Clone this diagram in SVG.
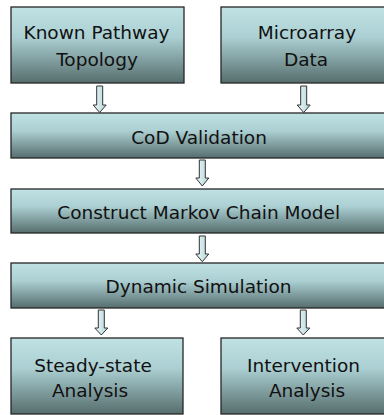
<svg xmlns="http://www.w3.org/2000/svg" width="384" height="415" viewBox="0 0 384 415">
  <defs>
    <linearGradient id="boxGrad" x1="0" y1="0" x2="0" y2="1">
      <stop offset="0" stop-color="#c0e2e5"/>
      <stop offset="0.4" stop-color="#abcfd2"/>
      <stop offset="1" stop-color="#566d6d"/>
    </linearGradient>
    <linearGradient id="arrGrad" x1="0" y1="0" x2="1" y2="0">
      <stop offset="0" stop-color="#eef8f9"/>
      <stop offset="1" stop-color="#b3d6d9"/>
    </linearGradient>
    <style>
      .box { fill: url(#boxGrad); stroke: #262626; stroke-width: 1.3; }
      .lbl { font-family: "DejaVu Sans", Verdana, sans-serif; font-size: 18.5px; fill: #111; text-anchor: middle; }
      .arr { fill: url(#arrGrad); stroke: #333; stroke-width: 1; stroke-linejoin: miter; }
    </style>
  </defs>
  <rect width="384" height="415" fill="#ffffff"/>

  <g id="connectors">
    <path class="arr" d="M96.7 86 H102.7 V105 H106.2 L99.7 112.5 L93.2 105 H96.7 Z"/>
    <path class="arr" d="M300.7 86 H306.7 V105 H310.2 L303.7 112.5 L297.2 105 H300.7 Z"/>
    <path class="arr" d="M199.3 160 H205.3 V178 H208.8 L202.3 186 L195.8 178 H199.3 Z"/>
    <path class="arr" d="M199.3 236 H205.3 V254 H208.8 L202.3 261.7 L195.8 254 H199.3 Z"/>
    <path class="arr" d="M98.3 310 H104.3 V328 H107.8 L101.3 335 L94.8 328 H98.3 Z"/>
    <path class="arr" d="M300.3 310 H306.3 V328 H309.8 L303.3 335 L296.8 328 H300.3 Z"/>
  </g>

  <g id="known-pathway">
    <rect class="box" x="11" y="7" width="173" height="76"/>
    <text class="lbl" x="96.5" y="39">Known Pathway</text>
    <text class="lbl" x="97" y="66">Topology</text>
  </g>

  <g id="microarray">
    <rect class="box" x="221" y="7" width="175" height="76"/>
    <text class="lbl" x="307" y="39">Microarray</text>
    <text class="lbl" x="306" y="66">Data</text>
  </g>

  <g id="cod-validation">
    <rect class="box" x="11" y="113" width="380" height="45"/>
    <text class="lbl" x="199" y="144">CoD Validation</text>
  </g>

  <g id="markov-model">
    <rect class="box" x="11" y="189" width="380" height="44"/>
    <text class="lbl" x="198.7" y="219">Construct Markov Chain Model</text>
  </g>

  <g id="dynamic-simulation">
    <rect class="box" x="11" y="263" width="380" height="45"/>
    <text class="lbl" x="198.5" y="293">Dynamic Simulation</text>
  </g>

  <g id="steady-state">
    <rect class="box" x="11" y="338" width="172" height="76"/>
    <text class="lbl" x="93" y="372">Steady-state</text>
    <text class="lbl" x="90" y="397">Analysis</text>
  </g>

  <g id="intervention">
    <rect class="box" x="221" y="338" width="175" height="76"/>
    <text class="lbl" x="303.5" y="372">Intervention</text>
    <text class="lbl" x="307" y="397">Analysis</text>
  </g>
</svg>
